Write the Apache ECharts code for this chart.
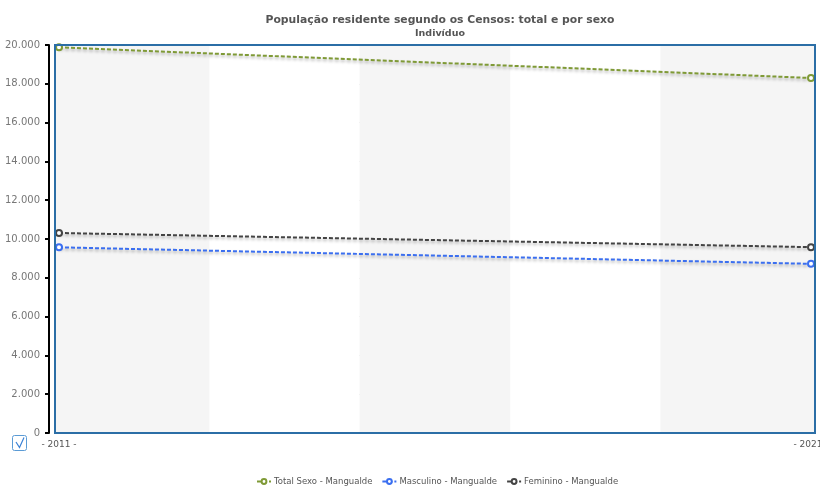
<!DOCTYPE html>
<html><head><meta charset="utf-8">
<script src="https://cdn.jsdelivr.net/npm/echarts@6/dist/echarts.min.js"></script>
<style>html,body{margin:0;padding:0;background:#fff}#c{width:820px;height:487px}</style>
</head><body><div id="c"></div>
<script>
const years = [2011, 2021];
const totalSexo = [19880, 18300];
const masculino = [9570, 8720];
const feminino = [10310, 9580];
const seriesNames = ['Total Sexo - Mangualde', 'Masculino - Mangualde', 'Feminino - Mangualde'];
const colors = ['#7f9a36', '#3b6ff0', '#444444'];

const font = 'DejaVu Sans, Verdana, sans-serif';
const chart = echarts.init(document.getElementById('c'));
function mk(i, data) {
  return {
    name: seriesNames[i], type: 'line', xAxisIndex: 1, yAxisIndex: 1,
    data: years.map((y, k) => [y, data[k]]),
    symbol: 'emptyCircle', symbolSize: 6,
    itemStyle: { color: colors[i], borderWidth: 0.9 },
    lineStyle: { color: colors[i], width: 2, type: [4, 2], shadowColor: 'rgba(0,0,0,0.3)', shadowBlur: 3, shadowOffsetY: 2 },
    z: 3
  };
}
const frame = { left: 55, right: 5, top: 45, bottom: 54, outerBoundsMode: 'none', containLabel: false };
chart.setOption({
  animation: false,
  textStyle: { fontFamily: font },
  title: {
    text: 'População residente segundo os Censos: total e por sexo',
    subtext: 'Indivíduo',
    left: 435, top: 10, textAlign: 'center', itemGap: 3,
    textStyle: { fontSize: 10.8, fontWeight: 'bold', color: '#555', fontFamily: font },
    subtextStyle: { fontSize: 9.5, fontWeight: 'bold', color: '#555', fontFamily: font }
  },
  legend: {
    left: 256, top: 477, itemWidth: 14, itemHeight: 6, itemGap: 9,
    padding: 0,
    textStyle: { fontSize: 8.5, color: '#555', fontFamily: font, padding: [0, 0, 0, -2] },
    data: seriesNames
  },
  grid: [
    Object.assign({ show: true, backgroundColor: '#f5f5f5', borderWidth: 0, z: 0 }, frame),
    { left: 59, right: 9, top: 45, bottom: 54, outerBoundsMode: 'none', containLabel: false },
    Object.assign({ show: true, backgroundColor: 'transparent', borderColor: '#2b6ea6', borderWidth: 2, z: 10 }, frame)
  ],
  xAxis: [
    { gridIndex: 0, type: 'value', show: false },
    { gridIndex: 1, type: 'value', min: years[0], max: years[years.length - 1], interval: 2,
      axisLine: { show: false }, axisTick: { show: false }, splitLine: { show: false },
      splitArea: { show: true, areaStyle: { color: ['#f5f5f5', '#ffffff'] } },
      axisLabel: { fontSize: 9, color: '#555', margin: 7, showMinLabel: true, showMaxLabel: true, hideOverlap: false,
        formatter: v => years.includes(v) ? '- ' + v + ' -' : '' } },
    { gridIndex: 2, type: 'value', show: false }
  ],
  yAxis: [
    { gridIndex: 0, type: 'value', show: false },
    { gridIndex: 1, type: 'value', min: 0, max: 20000, interval: 2000, offset: 10,
      axisLine: { show: true, lineStyle: { color: '#000', width: 2 } },
      axisTick: { show: true, length: 4, lineStyle: { color: '#000', width: 2 } },
      axisLabel: { fontSize: 10, color: '#777', margin: 9,
        formatter: v => v.toLocaleString('de-DE') },
      splitLine: { show: true, lineStyle: { color: '#bbb', type: [1, 3] } }
    },
    { gridIndex: 2, type: 'value', show: false }
  ],
  graphic: [
    { type: 'rect', shape: { x: 12.5, y: 435.5, width: 14, height: 15, r: 2 }, style: { fill: '#fff', stroke: '#5b9bd5', lineWidth: 1 } },
    { type: 'polyline', shape: { points: [[16, 442], [19.5, 447.5], [24, 437.5]] }, style: { fill: null, stroke: '#3b82d6', lineWidth: 1.2 } }
  ],
  series: [mk(0, totalSexo), mk(1, masculino), mk(2, feminino)]
});
</script></body></html>
